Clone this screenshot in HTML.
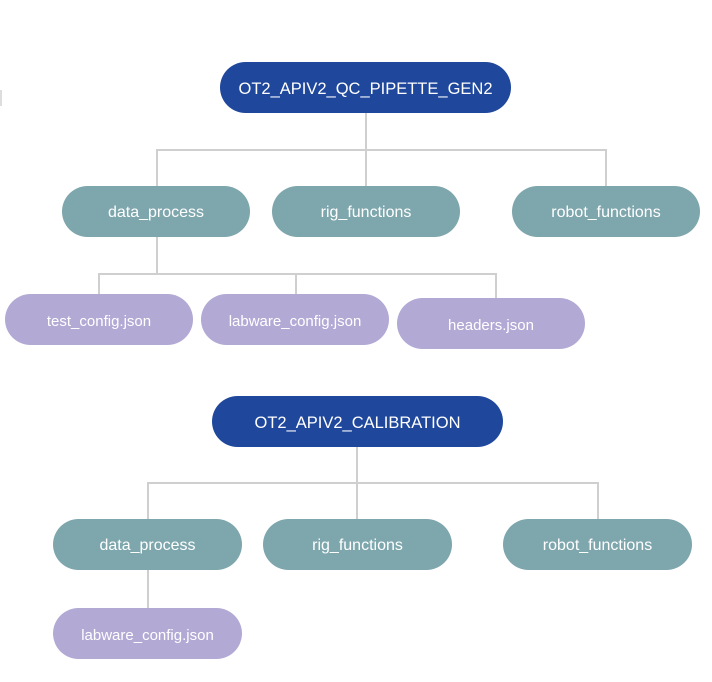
<!DOCTYPE html>
<html><head><style>
html,body{margin:0;padding:0;background:#fff;width:712px;height:682px;overflow:hidden;position:relative;font-family:"Liberation Sans",sans-serif}
.n{position:absolute;border-radius:26px;color:#fff;display:flex;align-items:center;justify-content:center;font-size:16px;box-sizing:border-box;padding-top:3px}
.r{background:#1f479c;font-size:16.5px}
.t{background:#7ea6ad}
.p{background:#b2a9d5;font-size:15px}
.l{position:absolute;background:#cfcfcf}
</style></head><body>
<div class="l" style="left:0;top:90px;width:2px;height:16px;background:#ddd"></div>
<div class="l" style="left:365px;top:113px;width:2px;height:73px"></div>
<div class="l" style="left:156px;top:149px;width:451px;height:2px"></div>
<div class="l" style="left:156px;top:149px;width:2px;height:37px"></div>
<div class="l" style="left:605px;top:149px;width:2px;height:37px"></div>
<div class="l" style="left:156px;top:237px;width:2px;height:38px"></div>
<div class="l" style="left:98px;top:273px;width:399px;height:2px"></div>
<div class="l" style="left:98px;top:273px;width:2px;height:21px"></div>
<div class="l" style="left:295px;top:273px;width:2px;height:21px"></div>
<div class="l" style="left:495px;top:273px;width:2px;height:25px"></div>
<div class="l" style="left:356px;top:447px;width:2px;height:72px"></div>
<div class="l" style="left:147px;top:482px;width:452px;height:2px"></div>
<div class="l" style="left:147px;top:482px;width:2px;height:37px"></div>
<div class="l" style="left:597px;top:482px;width:2px;height:37px"></div>
<div class="l" style="left:147px;top:570px;width:2px;height:38px"></div>

<div class="n r" style="left:220px;top:62px;width:291px;height:51px">OT2_APIV2_QC_PIPETTE_GEN2</div>
<div class="n t" style="left:62px;top:186px;width:188px;height:51px">data_process</div>
<div class="n t" style="left:272px;top:186px;width:188px;height:51px">rig_functions</div>
<div class="n t" style="left:512px;top:186px;width:188px;height:51px">robot_functions</div>
<div class="n p" style="left:5px;top:294px;width:188px;height:51px">test_config.json</div>
<div class="n p" style="left:201px;top:294px;width:188px;height:51px">labware_config.json</div>
<div class="n p" style="left:397px;top:298px;width:188px;height:51px">headers.json</div>

<div class="n r" style="left:212px;top:396px;width:291px;height:51px">OT2_APIV2_CALIBRATION</div>
<div class="n t" style="left:53px;top:519px;width:189px;height:51px">data_process</div>
<div class="n t" style="left:263px;top:519px;width:189px;height:51px">rig_functions</div>
<div class="n t" style="left:503px;top:519px;width:189px;height:51px">robot_functions</div>
<div class="n p" style="left:53px;top:608px;width:189px;height:51px">labware_config.json</div>
</body></html>
